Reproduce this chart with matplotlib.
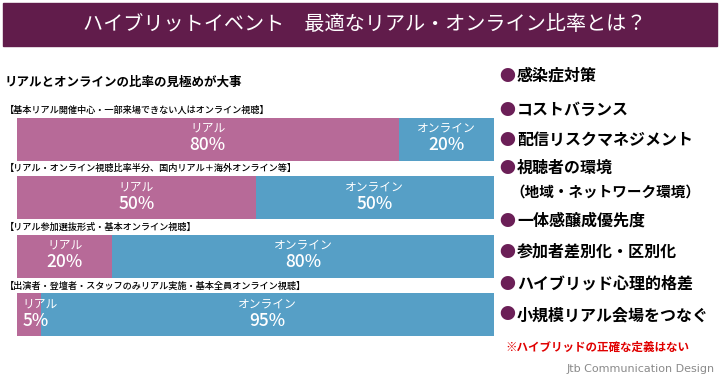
import matplotlib.pyplot as plt
from matplotlib.patches import Rectangle

plt.rcParams['font.family'] = ['Noto Sans CJK JP', 'DejaVu Sans']

W, H = 720, 387

title = 'ハイブリットイベント　最適なリアル・オンライン比率とは？'
subtitle = 'リアルとオンラインの比率の見極めが大事'

scenarios = [
    '【基本リアル開催中心・一部来場できない人はオンライン視聴】',
    '【リアル・オンライン視聴比率半分、国内リアル＋海外オンライン等】',
    '【リアル参加選抜形式・基本オンライン視聴】',
    '【出演者・登壇者・スタッフのみリアル実施・基本全員オンライン視聴】',
]
real_pct = [80, 50, 20, 5]
online_pct = [20, 50, 80, 95]

points = [
    '感染症対策',
    'コストバランス',
    '配信リスクマネジメント',
    '視聴者の環境\n（地域・ネットワーク環境）',
    '一体感醸成優先度',
    '参加者差別化・区別化',
    'ハイブリッド心理的格差',
    '小規模リアル会場をつなぐ',
]
point_y = [76, 110, 140, 168, 221, 252, 284, 315]
note = '※ハイブリッドの正確な定義はない'
credit = 'Jtb Communication Design'

pink = '#B76A98'
blue = '#569FC6'
purple = '#611C4B'


def fx(px):
    return px / W


def fy(py):
    return 1 - py / H


fig = plt.figure(figsize=(7.2, 3.87), dpi=100)

# title band
fig.patches.append(Rectangle((fx(3), fy(46)), fx(714), 43 / H,
                             transform=fig.transFigure, color=purple, zorder=0))
fig.text(fx(365), fy(24), title, color='white', fontsize=14.5,
         ha='center', va='center')

fig.text(fx(5), fy(82), subtitle, fontsize=9, weight='bold',
         ha='left', va='center')

# stacked bars
ax = fig.add_axes([fx(17), fy(344), 477 / W, 234 / H])
ys = range(len(scenarios))
bh = 0.73
ax.barh(ys, real_pct, height=bh, color=pink)
ax.barh(ys, online_pct, left=real_pct, height=bh, color=blue)
ax.set_xlim(0, 100)
ax.set_ylim(3.5, -0.5)
ax.axis('off')

for i, (lab, r, o) in enumerate(zip(scenarios, real_pct, online_pct)):
    ax.text(-2.5, i - bh / 2 - 0.13, lab, fontsize=6.6, weight='medium',
            ha='left', va='center', clip_on=False)
    for start, val, name in [(0, r, 'リアル'), (r, o, 'オンライン')]:
        if val < 10:
            xt, ha = start + 1.2, 'left'
        else:
            xt, ha = start + val / 2, 'center'
        ax.text(xt, i - 0.19, name, color='white', fontsize=8.5,
                ha=ha, va='center')
        ax.text(xt, i + 0.10, f'{val}%', color='white', fontsize=12.5,
                weight='medium', ha=ha, va='center')

# bullet list
for txt, y in zip(points, point_y):
    lines = txt.split('\n')
    fig.text(fx(507), fy(y), '●', color='#6B1F57', fontsize=11.5,
             ha='center', va='center')
    fig.text(fx(517), fy(y), lines[0], fontsize=11.5, weight='bold',
             ha='left', va='center')
    for k, extra in enumerate(lines[1:], start=1):
        fig.text(fx(510), fy(y + 24 * k), extra, fontsize=10.5, weight='bold',
                 ha='left', va='center')

fig.text(fx(505), fy(347), note, color='#E00000', fontsize=8.3,
         weight='bold', ha='left', va='center')
fig.text(fx(715), fy(369), credit, color='#8A8A8A', fontsize=8,
         ha='right', va='center', family='DejaVu Sans')

fig.savefig('out.png', dpi=100)
